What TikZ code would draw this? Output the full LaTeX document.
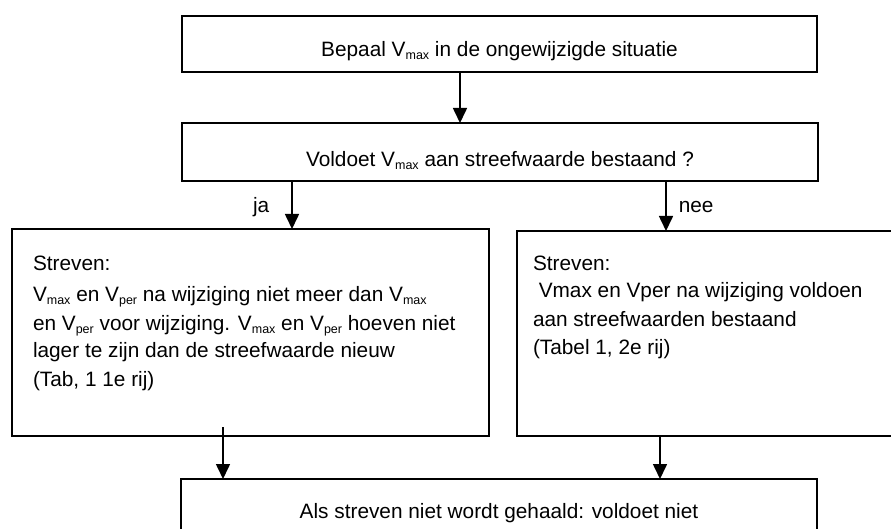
\documentclass[tikz,border=0pt]{standalone}
\usepackage{fontspec}
\setmainfont{Liberation Sans}
\usetikzlibrary{arrows.meta}

\newcommand{\ind}[1]{\raisebox{-3pt}{\fontsize{12.5}{12.5}\selectfont #1}}

\begin{document}
\begin{tikzpicture}[x=1pt,y=-1pt,
  kader/.style={draw,line width=1.6pt,inner xsep=0pt,inner ysep=0pt,
   outer sep=0pt,font=\fontsize{20.8}{28}\selectfont},
  pijl/.style={line width=1.6pt,-{Triangle[width=14pt,length=15pt]}},
  keuze/.style={inner sep=0pt,font=\fontsize{20.8}{28}\selectfont}]

 \useasboundingbox (0,0) rectangle (891,529);
 \clip (0,0) rectangle (891,529);

 \node [kader, anchor=north west, minimum width=635pt,
  text height=41pt, text depth=15pt] (bepaal) at (182,16)
  {Bepaal V\ind{max} in de ongewijzigde situatie};

 \node [kader, anchor=north west, minimum width=636pt,
  text height=44pt, text depth=14pt] (vraag) at (182,123)
  {Voldoet V\ind{max} aan streefwaarde bestaand ?};

 \node [kader, anchor=north west, inner xsep=21pt] (links) at (12,229)
  {\parbox[t][207pt][t]{435pt}{\rule{0pt}{41pt}Streven:\\[4pt]
   V\ind{max} en V\ind{per} na wijziging niet meer dan V\ind{max}\\
   en V\ind{per} voor wijziging. V\ind{max} en V\ind{per} hoeven niet\\
   lager te zijn dan de streefwaarde nieuw\\
   (Tab, 1 1e rij)}};

 \node [kader, anchor=north west, inner xsep=16pt] (rechts) at (517,231)
  {\parbox[t][205pt][t]{381pt}{\rule{0pt}{39pt}Streven:\\
   \mbox{}\ Vmax en Vper na wijziging voldoen\\
   aan streefwaarden bestaand\\
   (Tabel 1, 2e rij)}};

 \node [kader, anchor=north west, minimum width=636pt,
  text height=39pt, text depth=16pt] (uitkomst) at (181,479)
  {Als streven niet wordt gehaald: voldoet niet};

 \draw [pijl] ([xshift=-39.5pt]bepaal.south) coordinate (a1)
  -- (a1 |- vraag.north);
 \draw [pijl] ([xshift=-208pt]vraag.south) coordinate (a2)
  -- node[keuze, pos=0.65, anchor=base east, xshift=-22pt] (ja) {ja}
  (a2 |- links.north);
 \draw [pijl] ([xshift=166pt]vraag.south) coordinate (a3)
  -- node[keuze, pos=0.64, anchor=base west, xshift=12pt] (nee) {nee}
  (a3 |- rechts.north);
 \draw [pijl] ([xshift=-27.5pt,yshift=9pt]links.south) coordinate (a4)
  -- (a4 |- uitkomst.north);
 \draw [pijl] ([xshift=-63.5pt]rechts.south) coordinate (a5)
  -- (a5 |- uitkomst.north);
\end{tikzpicture}
\end{document}
